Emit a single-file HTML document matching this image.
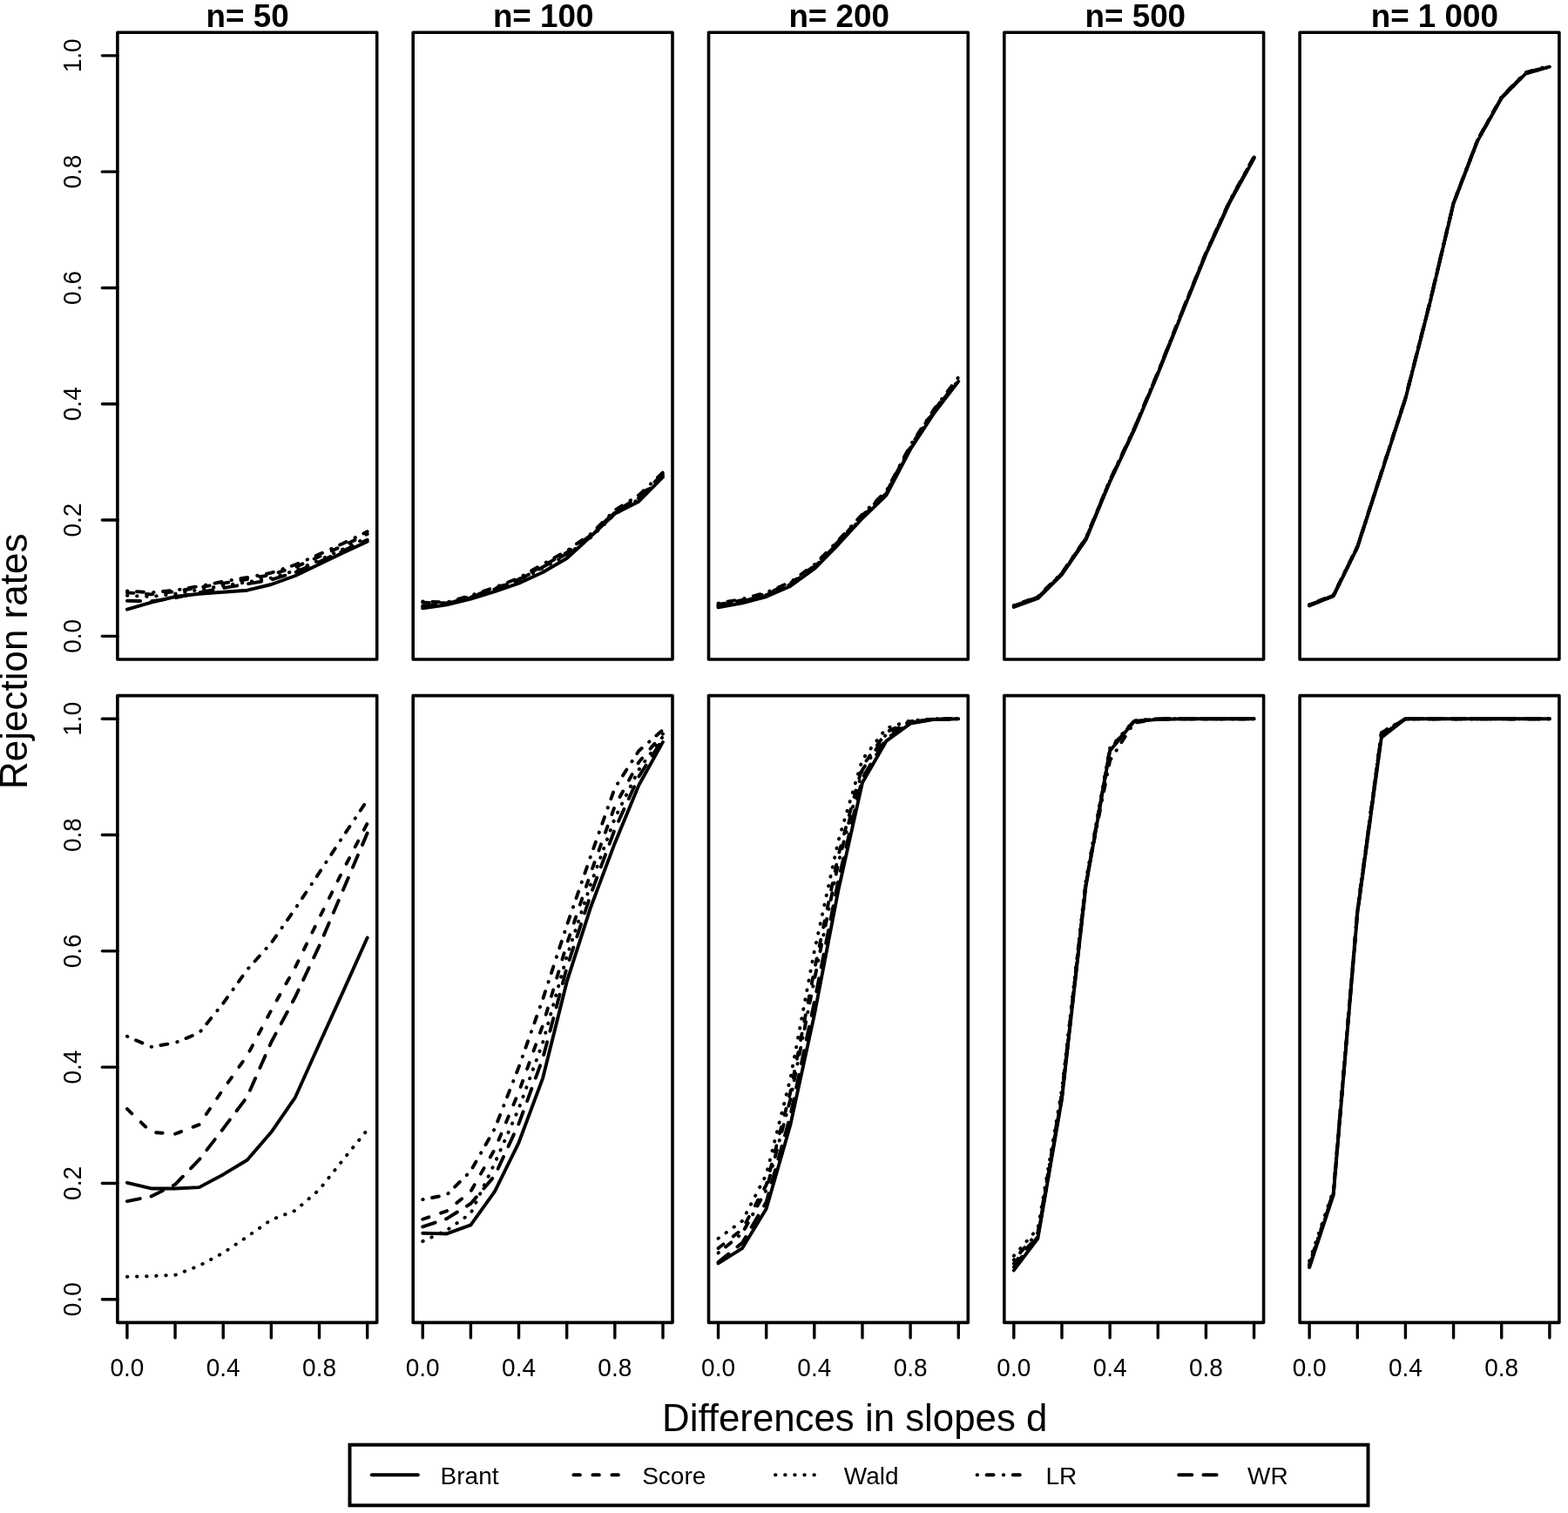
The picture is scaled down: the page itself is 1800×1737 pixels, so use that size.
<!DOCTYPE html>
<html><head><meta charset="utf-8"><title>Rejection rates</title>
<style>html,body{margin:0;padding:0;background:#fff;}svg{display:block;}text{font-family:"Liberation Sans",Arial,Helvetica,sans-serif;fill:#000;}</style></head><body>
<svg width="1800" height="1737" viewBox="0 0 1800 1737">
<rect x="0" y="0" width="1800" height="1737" fill="#fff"/>
<clipPath id="clip00"><rect x="134.90" y="37.20" width="297.80" height="719.80"/></clipPath>
<g clip-path="url(#clip00)" fill="none" stroke="#000" stroke-width="3.9" stroke-linejoin="round" stroke-linecap="round">
<polyline points="145.93,699.68 173.50,691.68 201.08,685.02 228.65,681.69 256.23,679.69 283.80,677.69 311.37,671.02 338.95,661.03 366.52,647.70 394.10,634.37 421.67,621.70"/>
<polyline points="145.93,680.35 173.50,682.35 201.08,679.02 228.65,674.36 256.23,669.69 283.80,665.03 311.37,659.69 338.95,651.03 366.52,639.03 394.10,626.37 421.67,613.04" stroke-dasharray="7.5 14.5"/>
<polyline points="145.93,683.69 173.50,685.02 201.08,681.69 228.65,677.02 256.23,672.36 283.80,668.36 311.37,663.69 338.95,655.03 366.52,643.03 394.10,630.37 421.67,617.04" stroke-dasharray="0.5 10.6"/>
<polyline points="145.93,678.36 173.50,680.35 201.08,677.69 228.65,673.02 256.23,667.69 283.80,663.03 311.37,657.69 338.95,648.36 366.52,636.37 394.10,623.70 421.67,610.37" stroke-dasharray="0.5 10.5 8 11.2"/>
<polyline points="145.93,689.69 173.50,690.35 201.08,686.35 228.65,680.35 256.23,675.02 283.80,670.36 311.37,665.69 338.95,657.03 366.52,645.03 394.10,632.37 421.67,619.70" stroke-dasharray="15.2 13"/>
</g>
<clipPath id="clip01"><rect x="474.20" y="37.20" width="297.80" height="719.80"/></clipPath>
<g clip-path="url(#clip01)" fill="none" stroke="#000" stroke-width="3.9" stroke-linejoin="round" stroke-linecap="round">
<polyline points="485.23,698.35 512.80,694.35 540.38,687.69 567.95,679.02 595.53,669.69 623.10,657.03 650.67,641.03 678.25,615.71 705.82,589.71 733.40,575.72 760.97,547.72"/>
<polyline points="485.23,691.68 512.80,692.35 540.38,685.02 567.95,675.69 595.53,665.03 623.10,649.70 650.67,634.37 678.25,615.71 705.82,588.38 733.40,570.39 760.97,544.39" stroke-dasharray="7.5 14.5"/>
<polyline points="485.23,697.02 512.80,693.68 540.38,686.35 567.95,677.02 595.53,666.36 623.10,652.36 650.67,637.03 678.25,617.04 705.82,590.38 733.40,573.05 760.97,546.39" stroke-dasharray="0.5 10.6"/>
<polyline points="485.23,690.35 512.80,691.68 540.38,683.69 567.95,674.36 595.53,663.69 623.10,647.70 650.67,632.37 678.25,613.04 705.82,585.71 733.40,568.39 760.97,542.39" stroke-dasharray="0.5 10.5 8 11.2"/>
<polyline points="485.23,695.68 512.80,693.02 540.38,685.69 567.95,676.36 595.53,665.69 623.10,651.03 650.67,635.70 678.25,614.37 705.82,587.71 733.40,571.72 760.97,545.06" stroke-dasharray="15.2 13"/>
</g>
<clipPath id="clip02"><rect x="813.50" y="37.20" width="297.80" height="719.80"/></clipPath>
<g clip-path="url(#clip02)" fill="none" stroke="#000" stroke-width="3.9" stroke-linejoin="round" stroke-linecap="round">
<polyline points="824.53,697.35 852.10,692.35 879.68,685.02 907.25,673.02 934.83,653.03 962.40,625.04 989.97,595.05 1017.55,568.39 1045.12,515.73 1072.70,473.75 1100.27,437.76"/>
<polyline points="824.53,694.02 852.10,689.02 879.68,681.69 907.25,669.69 934.83,649.70 962.40,621.70 989.97,591.71 1017.55,565.05 1045.12,512.40 1072.70,470.41 1100.27,434.42" stroke-dasharray="7.5 14.5"/>
<polyline points="824.53,696.02 852.10,691.02 879.68,683.69 907.25,671.69 934.83,651.70 962.40,623.70 989.97,593.71 1017.55,567.05 1045.12,514.40 1072.70,472.41 1100.27,436.42" stroke-dasharray="0.5 10.6"/>
<polyline points="824.53,692.68 852.10,687.69 879.68,680.35 907.25,668.36 934.83,648.36 962.40,620.37 989.97,590.38 1017.55,563.72 1045.12,511.07 1072.70,469.08 1100.27,433.09" stroke-dasharray="0.5 10.5 8 11.2"/>
<polyline points="824.53,695.35 852.10,690.35 879.68,683.02 907.25,671.02 934.83,651.03 962.40,623.04 989.97,593.05 1017.55,566.39 1045.12,513.73 1072.70,471.75 1100.27,435.76" stroke-dasharray="15.2 13"/>
</g>
<clipPath id="clip03"><rect x="1152.80" y="37.20" width="297.80" height="719.80"/></clipPath>
<g clip-path="url(#clip03)" fill="none" stroke="#000" stroke-width="3.9" stroke-linejoin="round" stroke-linecap="round">
<polyline points="1163.83,697.02 1191.40,687.02 1218.98,659.69 1246.55,619.70 1274.13,553.06 1301.70,494.41 1329.27,429.09 1356.85,359.78 1384.42,291.80 1412.00,231.81 1439.57,181.83"/>
<polyline points="1163.83,695.68 1191.40,685.69 1218.98,658.36 1246.55,618.37 1274.13,551.72 1301.70,493.07 1329.27,427.76 1356.85,358.44 1384.42,290.46 1412.00,230.48 1439.57,180.49" stroke-dasharray="7.5 14.5"/>
<polyline points="1163.83,696.35 1191.40,686.35 1218.98,659.03 1246.55,619.04 1274.13,552.39 1301.70,493.74 1329.27,428.42 1356.85,359.11 1384.42,291.13 1412.00,231.15 1439.57,181.16" stroke-dasharray="0.5 10.6"/>
<polyline points="1163.83,695.02 1191.40,685.02 1218.98,657.69 1246.55,617.71 1274.13,551.06 1301.70,492.41 1329.27,427.09 1356.85,357.78 1384.42,289.80 1412.00,229.81 1439.57,179.83" stroke-dasharray="0.5 10.5 8 11.2"/>
<polyline points="1163.83,696.02 1191.40,686.02 1218.98,658.69 1246.55,618.71 1274.13,552.06 1301.70,493.41 1329.27,428.09 1356.85,358.78 1384.42,290.80 1412.00,230.81 1439.57,180.83" stroke-dasharray="15.2 13"/>
</g>
<clipPath id="clip04"><rect x="1492.10" y="37.20" width="297.80" height="719.80"/></clipPath>
<g clip-path="url(#clip04)" fill="none" stroke="#000" stroke-width="3.9" stroke-linejoin="round" stroke-linecap="round">
<polyline points="1503.13,695.35 1530.70,684.35 1558.28,628.37 1585.85,543.06 1613.43,457.75 1641.00,349.78 1668.57,233.81 1696.15,161.83 1723.72,112.51 1751.30,84.52 1778.87,76.72"/>
<polyline points="1503.13,694.68 1530.70,683.69 1558.28,627.70 1585.85,542.39 1613.43,457.08 1641.00,349.11 1668.57,233.15 1696.15,161.17 1723.72,111.85 1751.30,83.85 1778.87,76.06" stroke-dasharray="7.5 14.5"/>
<polyline points="1503.13,695.35 1530.70,684.35 1558.28,628.37 1585.85,543.06 1613.43,457.75 1641.00,349.78 1668.57,233.81 1696.15,161.83 1723.72,112.51 1751.30,84.52 1778.87,76.72" stroke-dasharray="0.5 10.6"/>
<polyline points="1503.13,694.02 1530.70,683.02 1558.28,627.04 1585.85,541.73 1613.43,456.42 1641.00,348.45 1668.57,232.48 1696.15,160.50 1723.72,111.18 1751.30,83.19 1778.87,75.39" stroke-dasharray="0.5 10.5 8 11.2"/>
<polyline points="1503.13,694.68 1530.70,683.69 1558.28,627.70 1585.85,542.39 1613.43,457.08 1641.00,349.11 1668.57,233.15 1696.15,161.17 1723.72,111.85 1751.30,83.85 1778.87,76.06" stroke-dasharray="15.2 13"/>
</g>
<clipPath id="clip10"><rect x="134.90" y="798.60" width="297.80" height="719.80"/></clipPath>
<g clip-path="url(#clip10)" fill="none" stroke="#000" stroke-width="3.9" stroke-linejoin="round" stroke-linecap="round">
<polyline points="145.93,1357.78 173.50,1364.44 201.08,1364.44 228.65,1363.11 256.23,1348.45 283.80,1331.79 311.37,1299.79 338.95,1259.81 366.52,1198.49 394.10,1137.84 421.67,1076.52"/>
<polyline points="145.93,1273.13 173.50,1299.79 201.08,1301.79 228.65,1291.13 256.23,1250.47 283.80,1211.82 311.37,1159.83 338.95,1110.51 366.52,1053.86 394.10,998.54 421.67,945.23" stroke-dasharray="7.5 14.5"/>
<polyline points="145.93,1465.75 173.50,1465.08 201.08,1463.75 228.65,1453.08 256.23,1438.42 283.80,1419.76 311.37,1400.43 338.95,1389.77 366.52,1365.78 394.10,1331.12 421.67,1297.13" stroke-dasharray="0.5 10.6"/>
<polyline points="145.93,1189.82 173.50,1201.82 201.08,1197.16 228.65,1185.83 256.23,1151.84 283.80,1113.18 311.37,1082.52 338.95,1043.20 366.52,1001.88 394.10,959.89 421.67,918.57" stroke-dasharray="0.5 10.5 8 11.2"/>
<polyline points="145.93,1379.11 173.50,1373.44 201.08,1359.78 228.65,1331.45 256.23,1295.80 283.80,1259.14 311.37,1196.49 338.95,1144.50 366.52,1085.85 394.10,1021.20 421.67,956.56" stroke-dasharray="15.2 13"/>
</g>
<clipPath id="clip11"><rect x="474.20" y="798.60" width="297.80" height="719.80"/></clipPath>
<g clip-path="url(#clip11)" fill="none" stroke="#000" stroke-width="3.9" stroke-linejoin="round" stroke-linecap="round">
<polyline points="485.23,1415.76 512.80,1416.43 540.38,1406.43 567.95,1367.78 595.53,1311.79 623.10,1237.81 650.67,1127.18 678.25,1041.20 705.82,967.89 733.40,901.24 760.97,851.92"/>
<polyline points="485.23,1399.77 512.80,1390.44 540.38,1367.78 567.95,1319.55 595.53,1253.74 623.10,1177.08 650.67,1083.86 678.25,1001.90 705.82,925.46 733.40,874.89 760.97,842.54" stroke-dasharray="7.5 14.5"/>
<polyline points="485.23,1425.09 512.80,1412.43 540.38,1393.10 567.95,1335.38 595.53,1272.80 623.10,1197.02 650.67,1098.08 678.25,1014.81 705.82,939.39 733.40,883.54 760.97,845.62" stroke-dasharray="0.5 10.6"/>
<polyline points="485.23,1377.11 512.80,1371.77 540.38,1344.45 567.95,1295.80 595.53,1225.15 623.10,1147.17 650.67,1062.53 678.25,982.55 705.82,904.57 733.40,861.92 760.97,837.92" stroke-dasharray="0.5 10.5 8 11.2"/>
<polyline points="485.23,1408.43 512.80,1399.10 540.38,1381.77 567.95,1349.78 595.53,1290.13 623.10,1215.15 650.67,1111.01 678.25,1026.54 705.82,952.06 733.40,891.41 760.97,848.42" stroke-dasharray="15.2 13"/>
</g>
<clipPath id="clip12"><rect x="813.50" y="798.60" width="297.80" height="719.80"/></clipPath>
<g clip-path="url(#clip12)" fill="none" stroke="#000" stroke-width="3.9" stroke-linejoin="round" stroke-linecap="round">
<polyline points="824.53,1450.42 852.10,1433.09 879.68,1387.77 907.25,1291.80 934.83,1165.16 962.40,1021.87 989.97,898.57 1017.55,850.59 1045.12,830.59 1072.70,825.93 1100.27,825.26"/>
<polyline points="824.53,1433.09 852.10,1411.16 879.68,1360.24 907.25,1254.47 934.83,1113.85 962.40,982.22 989.97,879.91 1017.55,840.32 1045.12,828.26 1072.70,825.46 1100.27,825.26" stroke-dasharray="7.5 14.5"/>
<polyline points="824.53,1421.76 852.10,1401.77 879.68,1348.45 907.25,1238.48 934.83,1091.85 962.40,965.22 989.97,871.91 1017.55,835.92 1045.12,827.26 1072.70,825.26 1100.27,825.26" stroke-dasharray="0.5 10.6"/>
<polyline points="824.53,1438.42 852.10,1415.86 879.68,1366.14 907.25,1262.47 934.83,1124.84 962.40,990.71 989.97,883.91 1017.55,842.52 1045.12,828.76 1072.70,825.56 1100.27,825.26" stroke-dasharray="0.5 10.5 8 11.2"/>
<polyline points="824.53,1449.09 852.10,1426.83 879.68,1379.91 907.25,1281.13 934.83,1150.50 962.40,1010.54 989.97,893.24 1017.55,847.65 1045.12,829.92 1072.70,825.79 1100.27,825.26" stroke-dasharray="15.2 13"/>
</g>
<clipPath id="clip13"><rect x="1152.80" y="798.60" width="297.80" height="719.80"/></clipPath>
<g clip-path="url(#clip13)" fill="none" stroke="#000" stroke-width="3.9" stroke-linejoin="round" stroke-linecap="round">
<polyline points="1163.83,1458.42 1191.40,1421.76 1218.98,1261.80 1246.55,1017.21 1274.13,861.92 1301.70,828.59 1329.27,825.93 1356.85,825.26 1384.42,825.26 1412.00,825.26 1439.57,825.26"/>
<polyline points="1163.83,1450.42 1191.40,1418.43 1218.98,1258.47 1246.55,1014.54 1274.13,859.92 1301.70,827.93 1329.27,825.26 1356.85,825.26 1384.42,825.26 1412.00,825.26 1439.57,825.26" stroke-dasharray="7.5 14.5"/>
<polyline points="1163.83,1441.75 1191.40,1410.43 1218.98,1250.47 1246.55,1010.54 1274.13,858.58 1301.70,827.26 1329.27,825.26 1356.85,825.26 1384.42,825.26 1412.00,825.26 1439.57,825.26" stroke-dasharray="0.5 10.6"/>
<polyline points="1163.83,1446.42 1191.40,1415.10 1218.98,1255.14 1246.55,1013.21 1274.13,873.25 1301.70,829.92 1329.27,825.26 1356.85,825.26 1384.42,825.26 1412.00,825.26 1439.57,825.26" stroke-dasharray="0.5 10.5 8 11.2"/>
<polyline points="1163.83,1454.42 1191.40,1419.76 1218.98,1259.81 1246.55,1015.87 1274.13,861.25 1301.70,827.93 1329.27,825.26 1356.85,825.26 1384.42,825.26 1412.00,825.26 1439.57,825.26" stroke-dasharray="15.2 13"/>
</g>
<clipPath id="clip14"><rect x="1492.10" y="798.60" width="297.80" height="719.80"/></clipPath>
<g clip-path="url(#clip14)" fill="none" stroke="#000" stroke-width="3.9" stroke-linejoin="round" stroke-linecap="round">
<polyline points="1503.13,1455.08 1530.70,1371.77 1558.28,1048.53 1585.85,846.59 1613.43,825.26 1641.00,825.26 1668.57,825.26 1696.15,825.26 1723.72,825.26 1751.30,825.26 1778.87,825.26"/>
<polyline points="1503.13,1453.08 1530.70,1369.77 1558.28,1046.53 1585.85,841.92 1613.43,825.26 1641.00,825.26 1668.57,825.26 1696.15,825.26 1723.72,825.26 1751.30,825.26 1778.87,825.26" stroke-dasharray="7.5 14.5"/>
<polyline points="1503.13,1447.75 1530.70,1366.44 1558.28,1043.87 1585.85,840.59 1613.43,825.26 1641.00,825.26 1668.57,825.26 1696.15,825.26 1723.72,825.26 1751.30,825.26 1778.87,825.26" stroke-dasharray="0.5 10.6"/>
<polyline points="1503.13,1451.09 1530.70,1368.44 1558.28,1045.20 1585.85,841.25 1613.43,825.26 1641.00,825.26 1668.57,825.26 1696.15,825.26 1723.72,825.26 1751.30,825.26 1778.87,825.26" stroke-dasharray="0.5 10.5 8 11.2"/>
<polyline points="1503.13,1454.42 1530.70,1370.44 1558.28,1047.86 1585.85,843.92 1613.43,825.26 1641.00,825.26 1668.57,825.26 1696.15,825.26 1723.72,825.26 1751.30,825.26 1778.87,825.26" stroke-dasharray="15.2 13"/>
</g>
<rect x="134.90" y="37.20" width="297.80" height="719.80" fill="none" stroke="#000" stroke-width="3.6" stroke-linejoin="round"/>
<rect x="474.20" y="37.20" width="297.80" height="719.80" fill="none" stroke="#000" stroke-width="3.6" stroke-linejoin="round"/>
<rect x="813.50" y="37.20" width="297.80" height="719.80" fill="none" stroke="#000" stroke-width="3.6" stroke-linejoin="round"/>
<rect x="1152.80" y="37.20" width="297.80" height="719.80" fill="none" stroke="#000" stroke-width="3.6" stroke-linejoin="round"/>
<rect x="1492.10" y="37.20" width="297.80" height="719.80" fill="none" stroke="#000" stroke-width="3.6" stroke-linejoin="round"/>
<rect x="134.90" y="798.60" width="297.80" height="719.80" fill="none" stroke="#000" stroke-width="3.6" stroke-linejoin="round"/>
<rect x="474.20" y="798.60" width="297.80" height="719.80" fill="none" stroke="#000" stroke-width="3.6" stroke-linejoin="round"/>
<rect x="813.50" y="798.60" width="297.80" height="719.80" fill="none" stroke="#000" stroke-width="3.6" stroke-linejoin="round"/>
<rect x="1152.80" y="798.60" width="297.80" height="719.80" fill="none" stroke="#000" stroke-width="3.6" stroke-linejoin="round"/>
<rect x="1492.10" y="798.60" width="297.80" height="719.80" fill="none" stroke="#000" stroke-width="3.6" stroke-linejoin="round"/>
<line x1="117.40" y1="730.34" x2="134.90" y2="730.34" stroke="#000" stroke-width="3.4" stroke-linecap="round"/>
<text x="0" y="0" font-size="29.1" text-anchor="middle" transform="translate(93 730.34) rotate(-90) scale(0.962 1)">0.0</text>
<line x1="117.40" y1="597.04" x2="134.90" y2="597.04" stroke="#000" stroke-width="3.4" stroke-linecap="round"/>
<text x="0" y="0" font-size="29.1" text-anchor="middle" transform="translate(93 597.04) rotate(-90) scale(0.962 1)">0.2</text>
<line x1="117.40" y1="463.75" x2="134.90" y2="463.75" stroke="#000" stroke-width="3.4" stroke-linecap="round"/>
<text x="0" y="0" font-size="29.1" text-anchor="middle" transform="translate(93 463.75) rotate(-90) scale(0.962 1)">0.4</text>
<line x1="117.40" y1="330.45" x2="134.90" y2="330.45" stroke="#000" stroke-width="3.4" stroke-linecap="round"/>
<text x="0" y="0" font-size="29.1" text-anchor="middle" transform="translate(93 330.45) rotate(-90) scale(0.962 1)">0.6</text>
<line x1="117.40" y1="197.16" x2="134.90" y2="197.16" stroke="#000" stroke-width="3.4" stroke-linecap="round"/>
<text x="0" y="0" font-size="29.1" text-anchor="middle" transform="translate(93 197.16) rotate(-90) scale(0.962 1)">0.8</text>
<line x1="117.40" y1="63.86" x2="134.90" y2="63.86" stroke="#000" stroke-width="3.4" stroke-linecap="round"/>
<text x="0" y="0" font-size="29.1" text-anchor="middle" transform="translate(93 63.86) rotate(-90) scale(0.962 1)">1.0</text>
<line x1="117.40" y1="1491.74" x2="134.90" y2="1491.74" stroke="#000" stroke-width="3.4" stroke-linecap="round"/>
<text x="0" y="0" font-size="29.1" text-anchor="middle" transform="translate(93 1491.74) rotate(-90) scale(0.962 1)">0.0</text>
<line x1="117.40" y1="1358.44" x2="134.90" y2="1358.44" stroke="#000" stroke-width="3.4" stroke-linecap="round"/>
<text x="0" y="0" font-size="29.1" text-anchor="middle" transform="translate(93 1358.44) rotate(-90) scale(0.962 1)">0.2</text>
<line x1="117.40" y1="1225.15" x2="134.90" y2="1225.15" stroke="#000" stroke-width="3.4" stroke-linecap="round"/>
<text x="0" y="0" font-size="29.1" text-anchor="middle" transform="translate(93 1225.15) rotate(-90) scale(0.962 1)">0.4</text>
<line x1="117.40" y1="1091.85" x2="134.90" y2="1091.85" stroke="#000" stroke-width="3.4" stroke-linecap="round"/>
<text x="0" y="0" font-size="29.1" text-anchor="middle" transform="translate(93 1091.85) rotate(-90) scale(0.962 1)">0.6</text>
<line x1="117.40" y1="958.56" x2="134.90" y2="958.56" stroke="#000" stroke-width="3.4" stroke-linecap="round"/>
<text x="0" y="0" font-size="29.1" text-anchor="middle" transform="translate(93 958.56) rotate(-90) scale(0.962 1)">0.8</text>
<line x1="117.40" y1="825.26" x2="134.90" y2="825.26" stroke="#000" stroke-width="3.4" stroke-linecap="round"/>
<text x="0" y="0" font-size="29.1" text-anchor="middle" transform="translate(93 825.26) rotate(-90) scale(0.962 1)">1.0</text>
<line x1="145.93" y1="1518.40" x2="145.93" y2="1535.90" stroke="#000" stroke-width="3.4" stroke-linecap="round"/>
<line x1="201.08" y1="1518.40" x2="201.08" y2="1535.90" stroke="#000" stroke-width="3.4" stroke-linecap="round"/>
<line x1="256.23" y1="1518.40" x2="256.23" y2="1535.90" stroke="#000" stroke-width="3.4" stroke-linecap="round"/>
<line x1="311.37" y1="1518.40" x2="311.37" y2="1535.90" stroke="#000" stroke-width="3.4" stroke-linecap="round"/>
<line x1="366.52" y1="1518.40" x2="366.52" y2="1535.90" stroke="#000" stroke-width="3.4" stroke-linecap="round"/>
<line x1="421.67" y1="1518.40" x2="421.67" y2="1535.90" stroke="#000" stroke-width="3.4" stroke-linecap="round"/>
<text x="0" y="0" font-size="29.1" text-anchor="middle" transform="translate(145.93 1580.2) scale(0.962 1)">0.0</text>
<text x="0" y="0" font-size="29.1" text-anchor="middle" transform="translate(256.23 1580.2) scale(0.962 1)">0.4</text>
<text x="0" y="0" font-size="29.1" text-anchor="middle" transform="translate(366.52 1580.2) scale(0.962 1)">0.8</text>
<line x1="485.23" y1="1518.40" x2="485.23" y2="1535.90" stroke="#000" stroke-width="3.4" stroke-linecap="round"/>
<line x1="540.38" y1="1518.40" x2="540.38" y2="1535.90" stroke="#000" stroke-width="3.4" stroke-linecap="round"/>
<line x1="595.53" y1="1518.40" x2="595.53" y2="1535.90" stroke="#000" stroke-width="3.4" stroke-linecap="round"/>
<line x1="650.67" y1="1518.40" x2="650.67" y2="1535.90" stroke="#000" stroke-width="3.4" stroke-linecap="round"/>
<line x1="705.82" y1="1518.40" x2="705.82" y2="1535.90" stroke="#000" stroke-width="3.4" stroke-linecap="round"/>
<line x1="760.97" y1="1518.40" x2="760.97" y2="1535.90" stroke="#000" stroke-width="3.4" stroke-linecap="round"/>
<text x="0" y="0" font-size="29.1" text-anchor="middle" transform="translate(485.23 1580.2) scale(0.962 1)">0.0</text>
<text x="0" y="0" font-size="29.1" text-anchor="middle" transform="translate(595.53 1580.2) scale(0.962 1)">0.4</text>
<text x="0" y="0" font-size="29.1" text-anchor="middle" transform="translate(705.82 1580.2) scale(0.962 1)">0.8</text>
<line x1="824.53" y1="1518.40" x2="824.53" y2="1535.90" stroke="#000" stroke-width="3.4" stroke-linecap="round"/>
<line x1="879.68" y1="1518.40" x2="879.68" y2="1535.90" stroke="#000" stroke-width="3.4" stroke-linecap="round"/>
<line x1="934.83" y1="1518.40" x2="934.83" y2="1535.90" stroke="#000" stroke-width="3.4" stroke-linecap="round"/>
<line x1="989.97" y1="1518.40" x2="989.97" y2="1535.90" stroke="#000" stroke-width="3.4" stroke-linecap="round"/>
<line x1="1045.12" y1="1518.40" x2="1045.12" y2="1535.90" stroke="#000" stroke-width="3.4" stroke-linecap="round"/>
<line x1="1100.27" y1="1518.40" x2="1100.27" y2="1535.90" stroke="#000" stroke-width="3.4" stroke-linecap="round"/>
<text x="0" y="0" font-size="29.1" text-anchor="middle" transform="translate(824.53 1580.2) scale(0.962 1)">0.0</text>
<text x="0" y="0" font-size="29.1" text-anchor="middle" transform="translate(934.83 1580.2) scale(0.962 1)">0.4</text>
<text x="0" y="0" font-size="29.1" text-anchor="middle" transform="translate(1045.12 1580.2) scale(0.962 1)">0.8</text>
<line x1="1163.83" y1="1518.40" x2="1163.83" y2="1535.90" stroke="#000" stroke-width="3.4" stroke-linecap="round"/>
<line x1="1218.98" y1="1518.40" x2="1218.98" y2="1535.90" stroke="#000" stroke-width="3.4" stroke-linecap="round"/>
<line x1="1274.13" y1="1518.40" x2="1274.13" y2="1535.90" stroke="#000" stroke-width="3.4" stroke-linecap="round"/>
<line x1="1329.27" y1="1518.40" x2="1329.27" y2="1535.90" stroke="#000" stroke-width="3.4" stroke-linecap="round"/>
<line x1="1384.42" y1="1518.40" x2="1384.42" y2="1535.90" stroke="#000" stroke-width="3.4" stroke-linecap="round"/>
<line x1="1439.57" y1="1518.40" x2="1439.57" y2="1535.90" stroke="#000" stroke-width="3.4" stroke-linecap="round"/>
<text x="0" y="0" font-size="29.1" text-anchor="middle" transform="translate(1163.83 1580.2) scale(0.962 1)">0.0</text>
<text x="0" y="0" font-size="29.1" text-anchor="middle" transform="translate(1274.13 1580.2) scale(0.962 1)">0.4</text>
<text x="0" y="0" font-size="29.1" text-anchor="middle" transform="translate(1384.42 1580.2) scale(0.962 1)">0.8</text>
<line x1="1503.13" y1="1518.40" x2="1503.13" y2="1535.90" stroke="#000" stroke-width="3.4" stroke-linecap="round"/>
<line x1="1558.28" y1="1518.40" x2="1558.28" y2="1535.90" stroke="#000" stroke-width="3.4" stroke-linecap="round"/>
<line x1="1613.43" y1="1518.40" x2="1613.43" y2="1535.90" stroke="#000" stroke-width="3.4" stroke-linecap="round"/>
<line x1="1668.57" y1="1518.40" x2="1668.57" y2="1535.90" stroke="#000" stroke-width="3.4" stroke-linecap="round"/>
<line x1="1723.72" y1="1518.40" x2="1723.72" y2="1535.90" stroke="#000" stroke-width="3.4" stroke-linecap="round"/>
<line x1="1778.87" y1="1518.40" x2="1778.87" y2="1535.90" stroke="#000" stroke-width="3.4" stroke-linecap="round"/>
<text x="0" y="0" font-size="29.1" text-anchor="middle" transform="translate(1503.13 1580.2) scale(0.962 1)">0.0</text>
<text x="0" y="0" font-size="29.1" text-anchor="middle" transform="translate(1613.43 1580.2) scale(0.962 1)">0.4</text>
<text x="0" y="0" font-size="29.1" text-anchor="middle" transform="translate(1723.72 1580.2) scale(0.962 1)">0.8</text>
<text x="284.10" y="31.4" font-size="36.8" font-weight="bold" text-anchor="middle">n= 50</text>
<text x="623.70" y="31.4" font-size="36.8" font-weight="bold" text-anchor="middle">n= 100</text>
<text x="963.20" y="31.4" font-size="36.8" font-weight="bold" text-anchor="middle">n= 200</text>
<text x="1303.30" y="31.4" font-size="36.8" font-weight="bold" text-anchor="middle">n= 500</text>
<text x="1646.80" y="31.4" font-size="36.8" font-weight="bold" text-anchor="middle">n= 1 000</text>
<text x="0" y="0" font-size="44" text-anchor="middle" transform="translate(31.4 759.3) rotate(-90)">Rejection rates</text>
<text x="981.2" y="1643.2" font-size="43.8" text-anchor="middle">Differences in slopes d</text>
<rect x="401.5" y="1658.7" width="1169" height="69.6" fill="none" stroke="#000" stroke-width="4"/>
<line x1="426.80" y1="1693.3" x2="479.80" y2="1693.3" stroke="#000" stroke-width="3.9" stroke-linecap="round"/>
<text x="505.60" y="1703.5" font-size="28">Brant</text>
<line x1="658.40" y1="1693.3" x2="711.40" y2="1693.3" stroke="#000" stroke-width="3.9" stroke-linecap="round" stroke-dasharray="7.5 14.5"/>
<text x="737.20" y="1703.5" font-size="28">Score</text>
<line x1="890.00" y1="1693.3" x2="943.00" y2="1693.3" stroke="#000" stroke-width="3.9" stroke-linecap="round" stroke-dasharray="0.5 10.6"/>
<text x="968.80" y="1703.5" font-size="28">Wald</text>
<line x1="1121.60" y1="1693.3" x2="1174.60" y2="1693.3" stroke="#000" stroke-width="3.9" stroke-linecap="round" stroke-dasharray="0.5 10.5 8 11.2"/>
<text x="1200.40" y="1703.5" font-size="28">LR</text>
<line x1="1353.20" y1="1693.3" x2="1406.20" y2="1693.3" stroke="#000" stroke-width="3.9" stroke-linecap="round" stroke-dasharray="15.2 13"/>
<text x="1432.00" y="1703.5" font-size="28">WR</text>
</svg></body></html>
